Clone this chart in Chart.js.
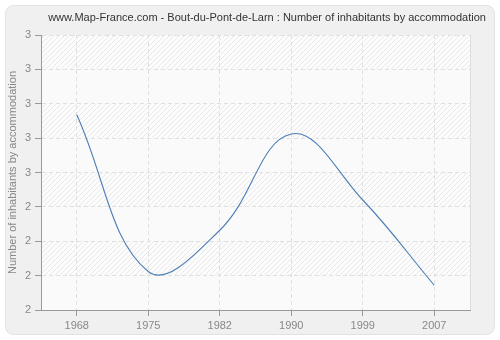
<!DOCTYPE html>
<html>
<head>
<meta charset="utf-8">
<script src="https://cdn.jsdelivr.net/npm/chart.js@4.4.1/dist/chart.umd.min.js"></script>
<style>
  html, body { margin: 0; padding: 0; background: #ffffff; }
  #wrap { width: 500px; height: 340px; }
</style>
</head>
<body>
<div id="wrap"><canvas id="chart" width="500" height="340"></canvas></div>
<script>
const years = ['1968', '1975', '1982', '1990', '1999', '2007'];
const inhabitants = [2.71, 2.14, 2.29, 2.64, 2.40, 2.09];
const yMin = 2;
const yMax = 3;
const yStep = 0.125;
const chartTitle = 'www.Map-France.com - Bout-du-Pont-de-Larn : Number of inhabitants by accommodation';
const yTitle = 'Number of inhabitants by accommodation';

function hatchPattern(ctx){
    let c = document.createElement('canvas');
    c.width = 5; c.height = 5;
    let p = c.getContext('2d');
    p.fillStyle = '#fcfcfc';
    p.fillRect(0, 0, 5, 5);
    p.strokeStyle = '#e8e8e8';
    p.lineWidth = 1;
    p.beginPath();
    p.moveTo(-1, 6); p.lineTo(6, -1);
    p.moveTo(-1, 1); p.lineTo(1, -1);
    p.moveTo(4, 6); p.lineTo(6, 4);
    p.stroke();
    return ctx.createPattern(c, 'repeat');
}

// panel, plot background and title
const decor = {
    id: 'decor',
    beforeDraw(chart){
        const ctx = chart.ctx;
        const a = chart.chartArea;
        ctx.save();
        ctx.fillStyle = '#ffffff';
        ctx.fillRect(0, 0, chart.width, chart.height);
        ctx.beginPath();
        ctx.roundRect(5.5, 5.5, 489, 329, 8);
        ctx.fillStyle = '#f0f0f0';
        ctx.fill();
        ctx.strokeStyle = '#e2e2e2';
        ctx.lineWidth = 1;
        ctx.stroke();
        ctx.fillStyle = '#fafafa';
        ctx.fillRect(a.left, a.top, a.right - a.left, a.bottom - a.top);
        const y = chart.scales.y;
        ctx.fillStyle = hatchPattern(ctx);
        for(let v = yMax; v > yMin; v -= 2 * yStep){
            let t = y.getPixelForValue(v);
            let b = y.getPixelForValue(v - yStep);
            ctx.fillRect(a.left, t, a.right - a.left, b - t);
        }
        ctx.strokeStyle = '#dddddd';
        ctx.beginPath();
        ctx.moveTo(a.right + 0.5, a.top);
        ctx.lineTo(a.right + 0.5, a.bottom);
        ctx.stroke();
        ctx.fillStyle = '#333333';
        ctx.font = '11px "Liberation Sans"';
        ctx.textAlign = 'center';
        ctx.textBaseline = 'middle';
        ctx.fillText(chartTitle, 267, 18);
        ctx.restore();
    }
};

const data = {
    labels: years,
    datasets: [{
        data: inhabitants,
        borderColor: '#4d7db5',
        borderWidth: 1.1,
        pointRadius: 0,
        fill: false,
        tension: 0.4
    }]
};

const config = {
    type: 'line',
    data: data,
    options: {
        responsive: false,
        animation: false,
        layout: { padding: { top: 35, right: 30, left: 0, bottom: 0 } },
        plugins: {
            legend: { display: false },
            title: { display: false },
            tooltip: { enabled: false }
        },
        scales: {
            x: {
                offset: true,
                grid: {
                    offset: false,
                    color: '#e0e0e0',
                    tickColor: '#999999',
                    tickLength: 6,
                    tickBorderDash: []
                },
                border: { color: '#999999', dash: [4, 3] },
                ticks: { color: '#888888', font: { family: 'Liberation Sans', size: 11 }, padding: 3 },
                afterFit(scale){ scale.height = 30; }
            },
            y: {
                min: yMin,
                max: yMax,
                grid: {
                    color: '#e0e0e0',
                    tickColor: '#999999',
                    tickLength: 6,
                    tickBorderDash: []
                },
                border: { color: '#999999', dash: [4, 3] },
                ticks: {
                    stepSize: yStep,
                    color: '#888888',
                    font: { family: 'Liberation Sans', size: 11 },
                    padding: 4,
                    callback: v => Math.round(v)
                },
                title: {
                    display: true,
                    text: yTitle,
                    color: '#888888',
                    font: { family: 'Liberation Sans', size: 11 },
                    padding: { top: 6, bottom: 0 }
                },
                afterFit(scale){ scale.width = 41; }
            }
        }
    }
};

let ctx = document.getElementById('chart').getContext('2d');
new Chart(ctx, { ...config, plugins: [decor] });
</script>
</body>
</html>
